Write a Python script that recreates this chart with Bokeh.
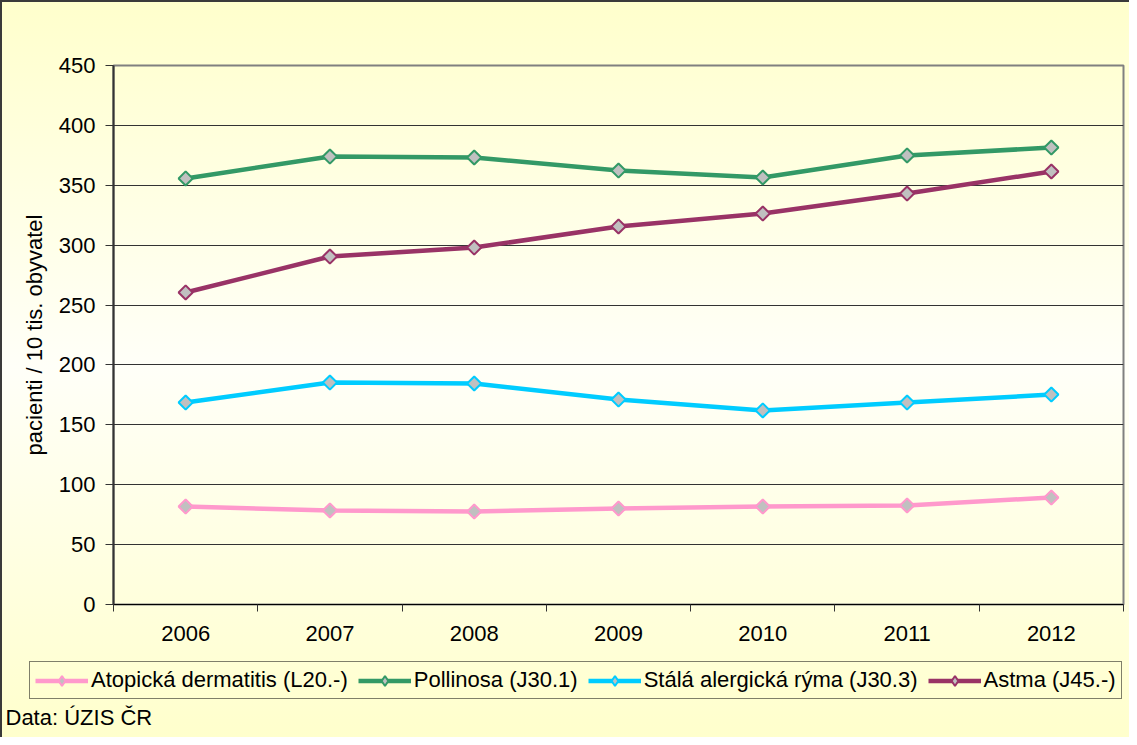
import math
from bokeh.plotting import figure
from bokeh.models import (Range1d, FixedTicker, Legend, LegendItem, Label,
                          ColumnDataSource)
from bokeh.embed import file_html
from bokeh.resources import INLINE

years = ["2006", "2007", "2008", "2009", "2010", "2011", "2012"]
atopicka = [81.8, 78.5, 77.6, 80.1, 81.8, 82.7, 89.3]
pollinosa = [355.7, 374.0, 373.2, 362.3, 356.5, 374.9, 381.5]
stala = [168.6, 185.3, 184.5, 171.1, 162.0, 168.6, 175.3]
astma = [260.5, 290.5, 298.0, 315.6, 326.4, 343.1, 361.5]

series_names = ["Atopická dermatitis (L20.-)", "Pollinosa (J30.1)",
                "Stálá alergická rýma (J30.3)", "Astma (J45.-)"]
series_values = [atopicka, pollinosa, stala, astma]
series_colors = ["#FF99CC", "#339966", "#00CCFF", "#993366"]

y_ticks = [0, 50, 100, 150, 200, 250, 300, 350, 400, 450]

FONT = "Liberation Sans"

x_centers = [i + 0.5 for i in range(len(years))]
x_bounds = list(range(len(years) + 1))

W = 1129
H_MAIN = 655
H_LEG = 82
LW = 4.5
EDGE = "#3a3a3a"

p = figure(width=W, height=H_MAIN, output_backend="svg", toolbar_location=None,
           x_range=Range1d(0, len(years)), y_range=Range1d(0, 450),
           min_border_left=113, min_border_right=6, min_border_top=65,
           min_border_bottom=51)
p.styles = {"background": "linear-gradient(#FFFFCC 0%, #FFFFF8 56%, #FFFFD6 100%)",
            "box-shadow": f"inset 2px 0 0 {EDGE}, inset 0 2px 0 {EDGE}"}
p.border_fill_alpha = 0
p.background_fill_alpha = 0
p.outline_line_color = "#808080"
p.outline_line_width = 2

# grid
p.xgrid.grid_line_color = None
p.ygrid.ticker = FixedTicker(ticks=y_ticks)
p.ygrid.grid_line_color = "#333333"
p.ygrid.grid_line_width = 1

# y axis
p.yaxis.ticker = FixedTicker(ticks=y_ticks)
p.yaxis.axis_label = "pacienti / 10 tis. obyvatel"
p.yaxis.axis_label_text_font = FONT
p.yaxis.axis_label_text_font_size = "22px"
p.yaxis.axis_label_text_font_style = "normal"
p.yaxis.axis_label_text_color = "black"
p.yaxis.axis_label_standoff = 9
p.yaxis.major_label_text_font = FONT
p.yaxis.major_label_text_font_size = "22px"
p.yaxis.major_label_text_color = "black"
p.yaxis.major_label_standoff = 10
p.yaxis.major_tick_out = 8
p.yaxis.major_tick_in = 0
p.yaxis.minor_tick_line_color = None
p.yaxis.axis_line_color = "#333333"
p.yaxis.axis_line_width = 2
p.yaxis.major_tick_line_color = "#333333"

# x axis
p.xaxis.ticker = FixedTicker(ticks=x_centers, minor_ticks=x_bounds)
p.xaxis.major_label_overrides = {c: y for c, y in zip(x_centers, years)}
p.xaxis.major_tick_out = 0
p.xaxis.major_tick_in = 0
p.xaxis.minor_tick_out = 7
p.xaxis.minor_tick_in = 0
p.xaxis.minor_tick_line_color = "#333333"
p.xaxis.axis_line_color = "black"
p.xaxis.major_label_text_font = FONT
p.xaxis.major_label_text_font_size = "22px"
p.xaxis.major_label_text_color = "black"
p.xaxis.major_label_standoff = 14

sources = []
for vals, col in zip(series_values, series_colors):
    src = ColumnDataSource(data=dict(x=x_centers, y=vals))
    sources.append(src)
    p.line("x", "y", source=src, line_color=col, line_width=LW)
    p.scatter("x", "y", source=src, marker="square", angle=math.pi / 4, size=10,
              fill_color="#C0C0C0", line_color=col, line_width=2)

# legend strip: a separate root so that its frame covers the full width
q = figure(width=W, height=H_LEG, output_backend="svg", toolbar_location=None,
           x_range=Range1d(0, 1), y_range=Range1d(0, 1),
           x_axis_location=None, y_axis_location=None,
           min_border=0, min_border_left=0, min_border_right=0,
           min_border_top=0, min_border_bottom=0)
q.styles = {"background": "linear-gradient(#FFFFD6 0%, #FFFFCC 100%)",
            "box-shadow": f"inset 2px 0 0 {EDGE}"}
q.grid.visible = False
q.outline_line_color = None
q.border_fill_alpha = 0
q.background_fill_alpha = 0

items = []
for name, col, src in zip(series_names, series_colors, sources):
    ln = q.line("x", "y", source=src, line_color=col, line_width=LW, visible=False)
    sc = q.scatter("x", "y", source=src, marker="diamond", size=18,
                   fill_color="#C0C0C0", line_color=col, line_width=2,
                   visible=False)
    items.append(LegendItem(label=name, renderers=[ln, sc]))

legend = Legend(items=items, orientation="horizontal", location=(29, 38),
                label_text_font=FONT, label_text_font_size="22px",
                label_text_color="black", glyph_width=53, glyph_height=25,
                label_standoff=3, spacing=10, padding=5, margin=0,
                border_line_color="black", border_line_width=1,
                background_fill_alpha=0, label_height=25,
                inactive_fill_alpha=0, click_policy="none")
q.add_layout(legend, "center")

note = Label(x=5, y=20, x_units="screen", y_units="screen",
             text="Data: ÚZIS ČR", text_font=FONT, text_font_size="22px",
             text_color="black", text_baseline="middle")
q.add_layout(note)

open("out.html", "w").write(file_html([p, q], INLINE))
